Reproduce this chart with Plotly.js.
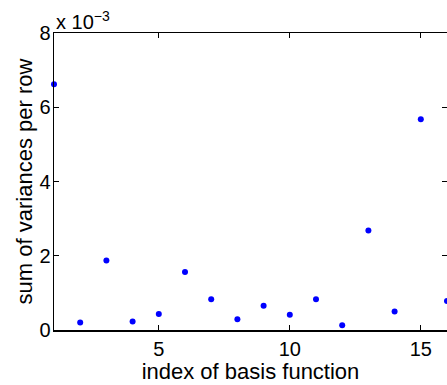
<!DOCTYPE html>
<html>
<head>
<meta charset="utf-8">
<script src="https://cdn.plot.ly/plotly-3.0.1.min.js"></script>
<style>
  html, body { margin: 0; padding: 0; overflow: hidden; background: #fff; }
  #chart { width: 457px; height: 385px; }
</style>
</head>
<body>
<div id="chart"></div>
<script>
// Index of each basis function
const basisIndex = [1, 2, 3, 4, 5, 6, 7, 8, 9, 10, 11, 12, 13, 14, 15, 16];
// Sum of variances per row for each basis function
const varianceSum = [0.00662, 0.00020, 0.00187, 0.00023, 0.00043, 0.00156, 0.00083, 0.00029,
                     0.00065, 0.00041, 0.00083, 0.00013, 0.00268, 0.00050, 0.00568, 0.00078];
// Y tick positions and their labels (scaled by 10^-3)
const yTickVals = [0, 0.002, 0.004, 0.006, 0.008];
const yTickText = ['0', '2', '4', '6', '8'];
const xTickVals = [5, 10, 15];

const family = 'Liberation Sans, Arial, Helvetica, sans-serif';
const tickFont = { family: family, size: 20, color: '#000' };
const titleFont = { family: family, size: 22, color: '#000' };

const trace = {
  x: basisIndex,
  y: varianceSum,
  type: 'scatter',
  mode: 'markers',
  marker: { color: '#0000ff', size: 6 },
  cliponaxis: false,
  hoverinfo: 'x+y'
};

const layout = {
  width: 457,
  height: 385,
  margin: { l: 54, r: 10, t: 33, b: 55 },
  paper_bgcolor: '#fff',
  plot_bgcolor: '#fff',
  font: tickFont,
  showlegend: false,
  xaxis: {
    range: [1, 16],
    tickvals: xTickVals,
    ticks: 'inside',
    ticklen: 5,
    tickcolor: '#000',
    tickwidth: 1,
    showline: true,
    linecolor: '#000',
    linewidth: 1.5,
    mirror: 'ticks',
    showgrid: false,
    zeroline: false,
    tickfont: tickFont,
    title: { text: 'index of basis function', font: titleFont, standoff: 0 },
    automargin: false
  },
  yaxis: {
    range: [0, 0.008],
    tickvals: yTickVals,
    ticktext: yTickText,
    ticks: 'inside',
    ticklen: 5,
    tickcolor: '#000',
    tickwidth: 1,
    showline: true,
    linecolor: '#000',
    linewidth: 1.5,
    mirror: 'ticks',
    showgrid: false,
    zeroline: false,
    tickfont: tickFont,
    ticklabelstandoff: -2,
    title: { text: 'sum of variances per row', font: titleFont, standoff: 0 },
    automargin: false
  },
  annotations: [{
    xref: 'paper', yref: 'paper',
    x: 0, y: 1,
    xanchor: 'left', yanchor: 'bottom',
    text: 'x 10<sup>\u22123</sup>',
    showarrow: false,
    font: tickFont,
    yshift: -2
  }]
};

Plotly.newPlot('chart', [trace], layout, { displayModeBar: false, staticPlot: true });
</script>
</body>
</html>
